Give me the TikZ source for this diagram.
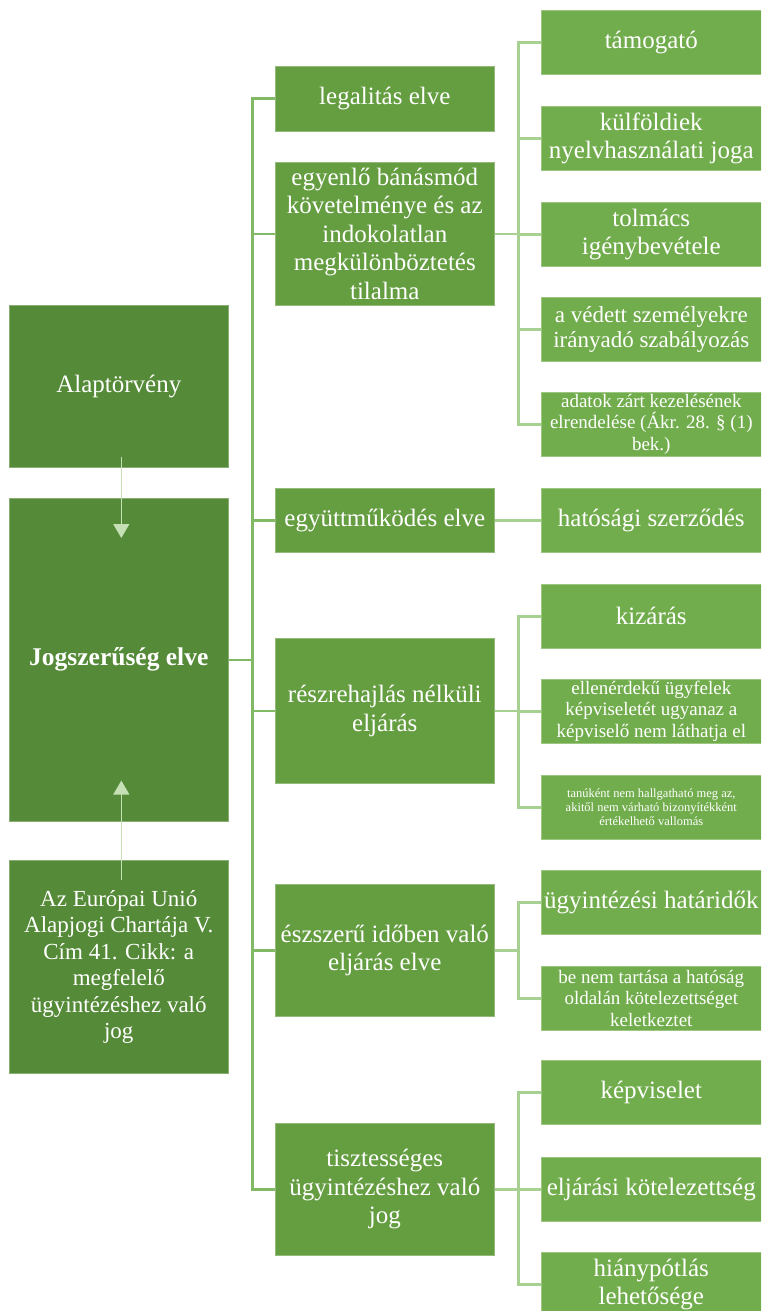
\documentclass[tikz,border=0pt]{standalone}
\usepackage{fontspec}
\setmainfont{Liberation Serif}
\usetikzlibrary{arrows.meta}
\definecolor{cL}{HTML}{558B38}
\definecolor{cM}{HTML}{659D41}
\definecolor{cR}{HTML}{72AD4D}
\definecolor{cS}{HTML}{82B964}
\definecolor{cT}{HTML}{A9D093}
\definecolor{cA}{HTML}{C5E0B4}
\tikzset{
  base/.style={anchor=north west, inner sep=1pt, align=center, text=white, line width=0.6pt},
  lbox/.style={base, fill=cL, draw=cL!70!white, minimum width=219pt},
  mbox/.style={base, fill=cM, draw=cM!70!white, minimum width=219pt},
  rbox/.style={base, fill=cR, draw=cR!70!white, minimum width=220pt, minimum height=64pt},
  fN/.style={font=\fontsize{25}{28.5}\selectfont},
  fE/.style={font=\fontsize{23}{26.5}\selectfont},
  fV/.style={font=\fontsize{23}{25}\selectfont},
  fS/.style={font=\fontsize{19}{21.5}\selectfont},
  fT/.style={font=\fontsize{12.5}{13.6}\selectfont},
  spine/.style={draw=cS, line width=2.6pt},
  twig/.style={draw=cT, line width=2.6pt},
  arr/.style={draw=cA, line width=1.4pt, -{Triangle[width=16pt,length=14pt]}}
}
\begin{document}
\begin{tikzpicture}[x=1pt,y=-1pt]
\useasboundingbox (0,0) rectangle (761,1311);
\clip (0,0) rectangle (761,1311);
% left column
\node[lbox, fN, minimum height=162pt] (alap) at (9,305) {Alaptörvény};
\node[lbox, minimum height=323pt, font=\fontsize{25.5}{29}\selectfont\bfseries] (jog) at (9,498) {Jogszerűség elve};
\node[lbox, fE, minimum height=213pt] (eu) at (9,860) {Az Európai Unió\\Alapjogi Chartája V.\\Cím 41. Cikk: a\\megfelelő\\ügyintézéshez való\\jog};
% middle column
\node[mbox, fN, minimum height=65pt] (legal) at (275,66) {legalitás elve};
\node[mbox, fN, minimum height=143pt] (egyen) at (275,162) {egyenlő bánásmód\\követelménye és az\\indokolatlan\\megkülönböztetés\\tilalma};
\node[mbox, fN, minimum height=64pt] (egyutt) at (275,488) {együttműködés elve};
\node[mbox, fN, minimum height=145pt] (reszre) at (275,638) {részrehajlás nélküli\\eljárás};
\node[mbox, fN, minimum height=132pt] (eszsz) at (275,884) {észszerű időben való\\eljárás elve};
\node[mbox, fN, minimum height=132pt] (tiszt) at (275,1123) {tisztességes\\ügyintézéshez való\\jog};
% right column
\node[rbox, fN] (tam) at (541,10) {támogató};
\node[rbox, fN] (kulf) at (541,106) {külföldiek\\nyelvhasználati joga};
\node[rbox, fN] (tolm) at (541,202) {tolmács\\igénybevétele};
\node[rbox, fV] (vedett) at (541,297) {a védett személyekre\\irányadó szabályozás};
\node[rbox, fS] (adatok) at (541,392) {adatok zárt kezelésének\\elrendelése (Ákr. 28. § (1)\\bek.)};
\node[rbox, fN] (hat) at (541,488) {hatósági szerződés};
\node[rbox, fN] (kiz) at (541,584) {kizárás};
\node[rbox, fS] (ellen) at (541,679) {ellenérdekű ügyfelek\\képviseletét ugyanaz a\\képviselő nem láthatja el};
\node[rbox, fT] (tanu) at (541,775) {tanúként nem hallgatható meg az,\\akitől nem várható bizonyítékként\\értékelhető vallomás};
\node[rbox, fN] (ugyint) at (541,870) {ügyintézési határidők};
\node[rbox, fS] (benem) at (541,966) {be nem tartása a hatóság\\oldalán kötelezettséget\\keletkeztet};
\node[rbox, fN] (kepv) at (541,1060) {képviselet};
\node[rbox, fN] (eljar) at (541,1157) {eljárási kötelezettség};
\node[rbox, fN] (hiany) at (541,1252) {hiánypótlás\\lehetősége};
% main spine
\foreach \t in {legal,egyen,egyutt,reszre,eszsz,tiszt}
  \draw[spine] (jog.east) -- ++(24,0) |- (\t.west);
% secondary connectors
\foreach \t in {tam,kulf,tolm,vedett,adatok}
  \draw[twig] (egyen.east) -- ++(24,0) |- (\t.west);
\draw[twig] (egyutt.east) -- (hat.west);
\foreach \t in {kiz,ellen,tanu}
  \draw[twig] (reszre.east) -- ++(24,0) |- (\t.west);
\foreach \t in {ugyint,benem}
  \draw[twig] (eszsz.east) -- ++(24,0) |- (\t.west);
\foreach \t in {kepv,eljar,hiany}
  \draw[twig] (tiszt.east) -- ++(24,0) |- (\t.west);
% arrows
\coordinate (a1) at ([xshift=2.5pt,yshift=11pt]alap.south);
\coordinate (a2) at ([xshift=2.5pt,yshift=-40pt]jog.north);
\coordinate (b1) at ([xshift=2.5pt,yshift=-20pt]eu.north);
\coordinate (b2) at ([xshift=2.5pt,yshift=41pt]jog.south);
\draw[arr] (a1) -- (a2);
\draw[arr] (b1) -- (b2);
\end{tikzpicture}
\end{document}
